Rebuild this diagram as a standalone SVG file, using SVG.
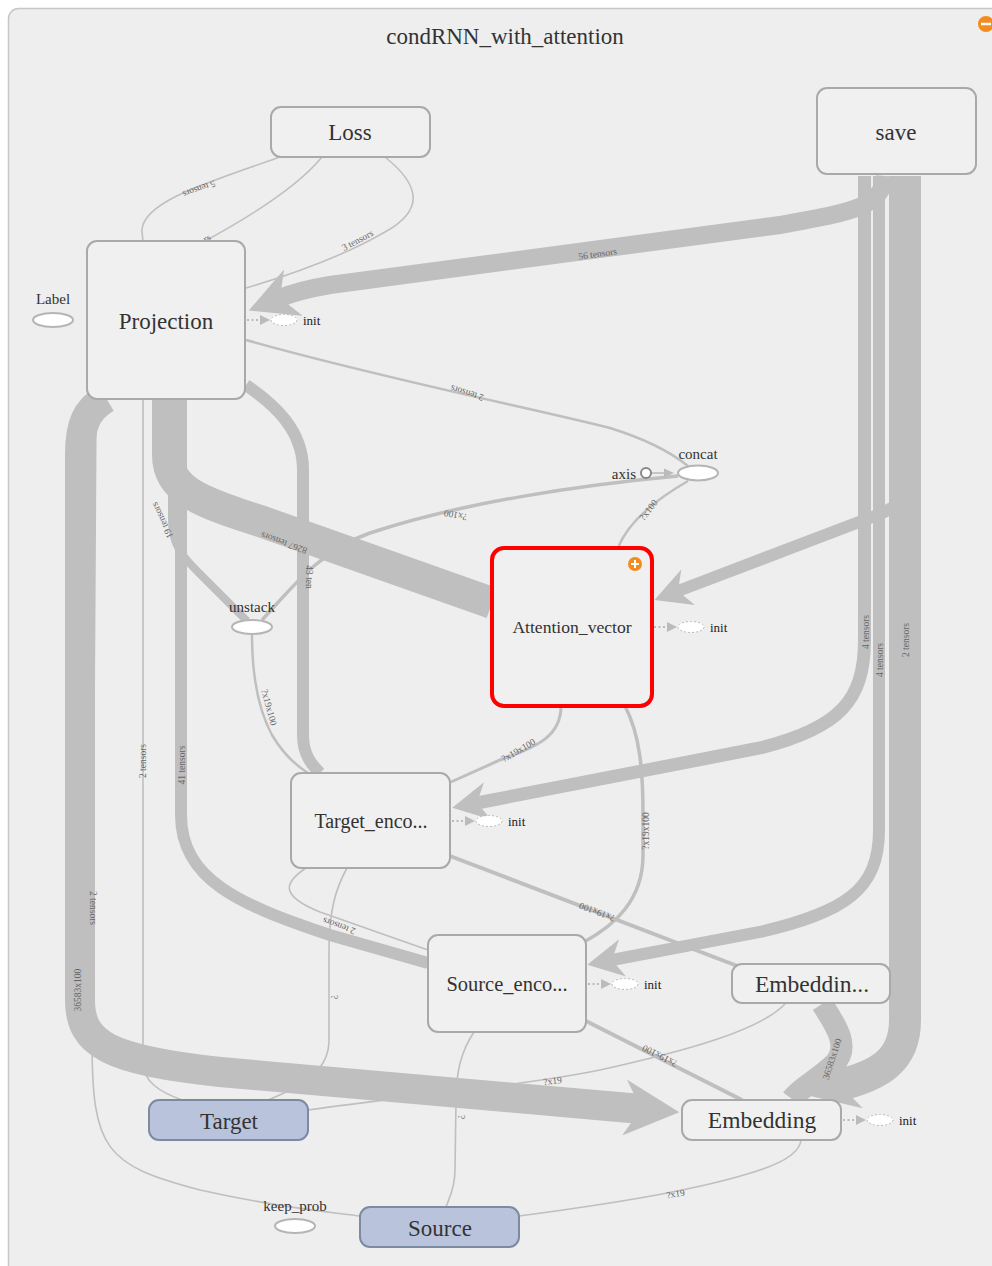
<svg xmlns="http://www.w3.org/2000/svg" width="992" height="1266" viewBox="0 0 992 1266">
<defs>
<style>
.e{fill:none;stroke:#bfbfbf;stroke-linecap:butt}
.w1{stroke-width:1.6}
.w3{stroke-width:3}
.w4{stroke-width:4}
.el{font-family:"Liberation Serif","DejaVu Serif",serif;font-size:9.5px;fill:#666;text-anchor:middle}
.nb rect{fill:#f0f0f0;stroke:#a9a9a9;stroke-width:2}
.nt{font-family:"Liberation Serif","DejaVu Serif",serif;fill:#333;text-anchor:middle}
.op ellipse{fill:#fff;stroke:#b5b5b5;stroke-width:2}
.ot{font-family:"Liberation Serif","DejaVu Serif",serif;font-size:15px;fill:#333;text-anchor:middle}
.inp rect{fill:#b9c4dc;stroke:#7c8aa2;stroke-width:2}
</style>
<marker id="aL" markerUnits="userSpaceOnUse" viewBox="0 0 55 56" markerWidth="55" markerHeight="56" refX="16.5" refY="28" orient="auto"><path d="M0,0 L55,28 L0,56 L16.5,28 z" fill="#bfbfbf"/></marker>
<marker id="aM" markerUnits="userSpaceOnUse" viewBox="0 0 48 50" markerWidth="48" markerHeight="50" refX="14.4" refY="25" orient="auto"><path d="M0,0 L48,25 L0,50 L14.4,25 z" fill="#bfbfbf"/></marker>
<marker id="aS" markerUnits="userSpaceOnUse" viewBox="0 0 36 38" markerWidth="36" markerHeight="38" refX="10.8" refY="19" orient="auto"><path d="M0,0 L36,19 L0,38 L10.8,19 z" fill="#bfbfbf"/></marker>
<g id="initTpl">
<path d="M2,0 L16,0" stroke="#aaa" stroke-width="1.6" stroke-dasharray="2 2.5" fill="none"/>
<path d="M15,-5 L25,0 L15,5 z" fill="#bbb"/>
<ellipse cx="39" cy="0" rx="13" ry="5.5" fill="#fff" stroke="#bbb" stroke-width="1" stroke-dasharray="2 2"/>
<text x="58" y="4.5" font-family="Liberation Serif, DejaVu Serif, serif" font-size="13" fill="#222">init</text>
</g>
</defs>

<rect x="0" y="0" width="992" height="1266" fill="#fff"/>
<rect x="8.5" y="8.5" width="1010" height="1290" rx="10" fill="#eeeeee" stroke="#c6c6c6" stroke-width="1.5"/>
<text class="nt" x="505" y="44" font-size="23">condRNN_with_attention</text>
<g id="collapse-icon"><circle cx="986" cy="24" r="8" fill="#f28c1f"/><path d="M981,24 L991,24" stroke="#fff" stroke-width="2.5"/></g>

<g id="connectors">
<!-- thin edges underneath -->
<path class="e w1" d="M96,399 L92,1040 C92,1150 105,1165 200,1190 C280,1208 330,1212 360,1216"/>
<path class="e w1" d="M143,399 L143,1062 C143,1082 160,1092 182,1100"/>
<path class="e w1" d="M280,157 C205,183 140,203 142,232 L143,241"/>
<path class="e w1" d="M322,157 C295,190 240,222 205,241"/>
<path class="e w1" d="M385,157 C420,185 425,210 385,232 C340,258 290,275 246,288"/>
<path class="e" stroke-width="2.5" d="M246,340 C380,378 540,410 610,428 C655,442 678,458 688,466"/>
<path class="e" stroke-width="2.5" d="M618,548 C628,522 655,500 688,481"/>
<path class="e w1" d="M306,868 C285,882 278,895 320,912 L428,950"/>
<path class="e w1" d="M347,868 C336,888 329,910 329,950 L329,1040 C329,1070 305,1085 268,1100"/>
<path class="e w1" d="M474,1032 C462,1050 456,1070 456,1100 L455,1170 C455,1190 448,1200 446,1207"/>
<path class="e w1" d="M308,1110 C400,1097 520,1086 600,1070 C690,1050 760,1030 785,1004"/>
<path class="e w1" d="M519,1216 C610,1204 700,1190 760,1170 C790,1160 800,1150 801,1140"/>
<path class="e" stroke-width="2.5" d="M252,635 C252,665 256,705 272,735 C285,757 300,768 308,773"/>
<path class="e w3" d="M561,706 C561,735 540,746 500,760 L451,782"/>
<path class="e w4" d="M450,856 L740,967"/>
<path class="e w4" d="M586,1021 L742,1100"/>
<path class="e" stroke-width="3.5" d="M625,706 C640,735 643,770 643,815 L643,855 C643,900 615,925 584,942"/>
<!-- thick edges -->
<path class="e" stroke-width="30" d="M106,398 C86,410 80,425 80,455 L80,1000 C80,1045 110,1060 220,1072 L641,1109" marker-end="url(#aL)"/>
<path class="e" stroke-width="12" d="M181,398 L181,815 C181,880 240,905 330,935 L428,963"/>
<path class="e" stroke-width="32" d="M168,398 L168,455 C168,490 200,502 260,521 L492,603"/>
<path class="e" stroke-width="8" d="M172,398 L172,520 C172,545 182,556 198,572 L247,621"/>
<path class="e" stroke-width="12" d="M246,385 C275,405 303,430 303,470 L303,735 C303,755 312,765 320,773"/>
<path class="e" stroke-width="3.5" d="M262,620 C290,590 320,550 370,533 C460,503 580,485 678,476"/>
<path class="e" stroke-width="18" d="M885,176 C882,208 850,212 780,225 L330,285 Q300,290 280,298" marker-end="url(#aM)"/>
<path class="e" stroke-width="32" d="M905,176 L905,1020 C905,1060 880,1075 840,1085" marker-end="url(#aL)"/>
<path class="e" stroke-width="12" d="M912,176 L912,478 C912,495 900,505 880,514 L678,591" marker-end="url(#aS)"/>
<path class="e" stroke-width="12" d="M879,176 L879,830 C879,890 845,912 760,932 L612,960" marker-end="url(#aS)"/>
<path class="e" stroke-width="13" d="M864.5,176 L864.5,640 C864.5,700 840,728 760,748 L477,803" marker-end="url(#aS)"/>
<path class="e" stroke-width="22" d="M822,1004 C838,1028 850,1048 834,1064 C820,1078 800,1088 792,1099"/>
<!-- axis -> concat -->
<path d="M651,473 L666,473" stroke="#bbb" stroke-width="1.6" fill="none"/>
<path d="M664,468.5 L674,473 L664,477.5 z" fill="#bbb"/>
<!-- edge labels -->
<text class="el" transform="translate(198,186) rotate(160)">5 tensors</text>
<text class="el" transform="translate(197,248) rotate(-32)">2 tensors</text>
<text class="el" transform="translate(359,243) rotate(-28)">3 tensors</text>
<text class="el" transform="translate(598,257) rotate(-8)">56 tensors</text>
<text class="el" transform="translate(468,390) rotate(197)">2 tensors</text>
<text class="el" transform="translate(456,512) rotate(191)">?x100</text>
<text class="el" transform="translate(651,512) rotate(-52)">?x100</text>
<text class="el" transform="translate(285,540) rotate(200)">8267 tensors</text>
<text class="el" transform="translate(165,519) rotate(245)">19 tensors</text>
<text class="el" transform="translate(306,577) rotate(90)">43 ten</text>
<text class="el" transform="translate(266,708) rotate(75)">?x19x100</text>
<text class="el" transform="translate(520,753) rotate(-30)">?x19x100</text>
<text class="el" transform="translate(185,765) rotate(-90)">41 tensors</text>
<text class="el" transform="translate(146,761) rotate(-90)">2 tensors</text>
<text class="el" font-size="8" transform="translate(90,908) rotate(90)">2 tensors</text>
<text class="el" transform="translate(81,990) rotate(-90)">36583x100</text>
<text class="el" transform="translate(869,632) rotate(-90)">4 tensors</text>
<text class="el" transform="translate(883,660) rotate(-90)">4 tensors</text>
<text class="el" transform="translate(909,640) rotate(-90)">2 tensors</text>
<text class="el" transform="translate(649,831) rotate(-90)">?x19x100</text>
<text class="el" transform="translate(598,909) rotate(201)">?x19x100</text>
<text class="el" transform="translate(340,923) rotate(200)">2 tensors</text>
<text class="el" transform="translate(331,997) rotate(90)">?</text>
<text class="el" transform="translate(458,1117) rotate(90)">?</text>
<text class="el" transform="translate(661,1053) rotate(207)">?x19x100</text>
<text class="el" transform="translate(553,1084) rotate(-8)">?x19</text>
<text class="el" transform="translate(676,1197) rotate(-9)">?x19</text>
<text class="el" transform="translate(835,1060) rotate(-72)">36583x100</text>
</g>

<g id="node-Loss" class="nb"><rect x="271" y="107" width="159" height="50" rx="10"/><text class="nt" x="350" y="140" font-size="23">Loss</text></g>
<g id="node-save" class="nb"><rect x="817" y="88" width="159" height="86" rx="10"/><text class="nt" x="896" y="140" font-size="23">save</text></g>
<g id="node-Projection" class="nb"><rect x="87" y="241" width="158" height="158" rx="10"/><text class="nt" x="166" y="329" font-size="23">Projection</text></g>
<use id="init-Projection" href="#initTpl" x="245" y="320"/>
<g id="node-Label" class="op"><ellipse cx="53" cy="320" rx="20" ry="7"/><text class="ot" x="53" y="304">Label</text></g>
<g id="node-concat" class="op"><ellipse cx="698" cy="473" rx="20" ry="7.5"/><text class="ot" x="698" y="459">concat</text></g>
<g id="node-axis"><circle cx="646" cy="473" r="5" fill="#fff" stroke="#888" stroke-width="2"/><text class="ot" x="636" y="479" text-anchor="end" style="text-anchor:end">axis</text></g>
<g id="node-unstack" class="op"><ellipse cx="252" cy="627" rx="20" ry="7"/><text class="ot" x="252" y="612">unstack</text></g>
<g id="node-Attention_vector"><rect x="492" y="548" width="160" height="158" rx="12" fill="#f0f0f0" stroke="#ff0000" stroke-width="4"/><text class="nt" x="572" y="633" font-size="17.6">Attention_vector</text><circle cx="635" cy="564" r="7" fill="#f28c1f"/><path d="M631,564 L639,564 M635,560 L635,568" stroke="#fff" stroke-width="2"/></g>
<use id="init-Attention_vector" href="#initTpl" x="652" y="627"/>
<g id="node-Target_encoder" class="nb"><rect x="291" y="773" width="159" height="95" rx="10"/><text class="nt" x="371" y="828" font-size="20">Target_enco...</text></g>
<use id="init-Target_encoder" href="#initTpl" x="450" y="821"/>
<g id="node-Source_encoder" class="nb"><rect x="428" y="935" width="158" height="97" rx="10"/><text class="nt" x="507" y="991" font-size="20.5">Source_enco...</text></g>
<use id="init-Source_encoder" href="#initTpl" x="586" y="984"/>
<g id="node-Embeddin" class="nb"><rect x="732" y="964" width="158" height="39" rx="10"/><text class="nt" x="812" y="992" font-size="23.5">Embeddin...</text></g>
<g id="node-Embedding" class="nb"><rect x="682" y="1100" width="159" height="40" rx="10"/><text class="nt" x="762" y="1128" font-size="23.5">Embedding</text></g>
<use id="init-Embedding" href="#initTpl" x="841" y="1120"/>
<g id="node-Target" class="inp"><rect x="149" y="1100" width="159" height="40" rx="10"/><text class="nt" x="229" y="1129" font-size="23">Target</text></g>
<g id="node-Source" class="inp"><rect x="360" y="1207" width="159" height="40" rx="10"/><text class="nt" x="440" y="1236" font-size="23">Source</text></g>
<g id="node-keep_prob" class="op"><ellipse cx="295" cy="1226" rx="20" ry="7"/><text class="ot" x="295" y="1211">keep_prob</text></g>
</svg>
